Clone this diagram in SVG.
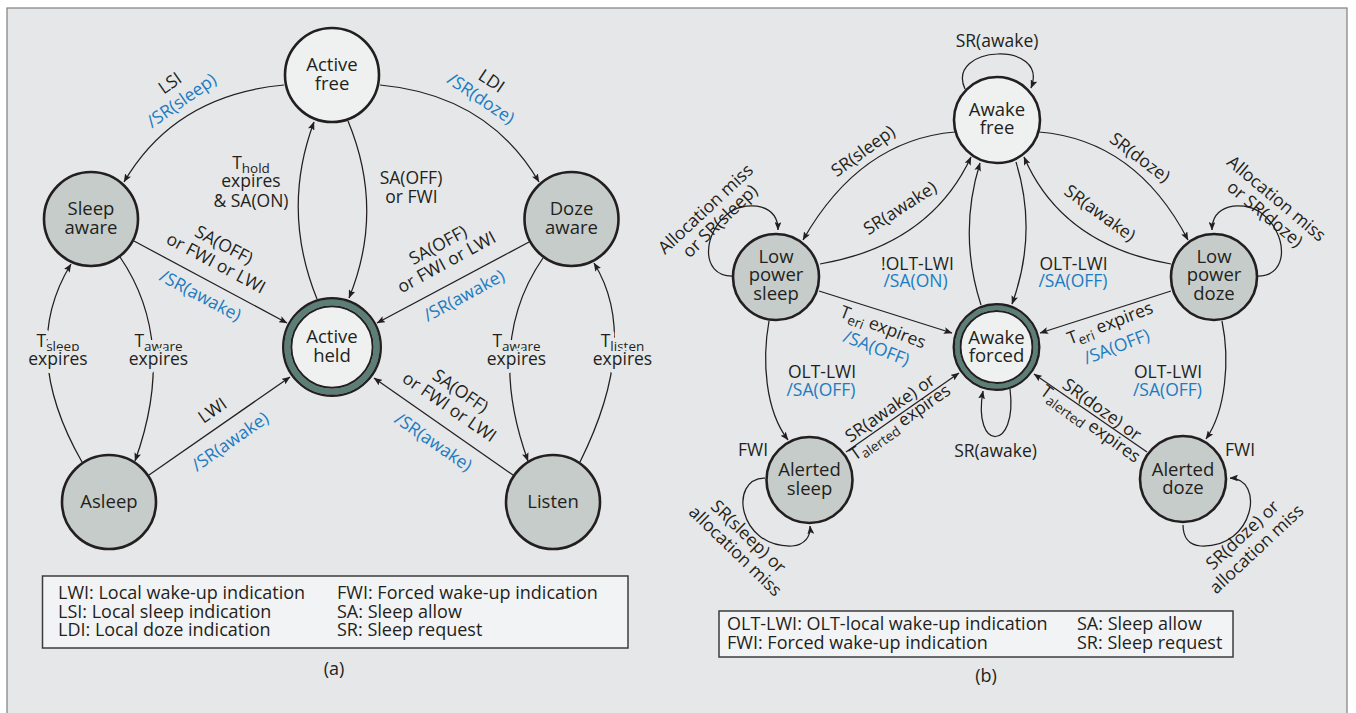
<svg xmlns="http://www.w3.org/2000/svg" width="1356" height="713" viewBox="0 0 1356 713">
<defs>
<style>
text{font-family:"Open Sans","Liberation Sans",sans-serif;fill:#231f20;font-size:17.5px}
.m{text-anchor:middle}
.b{fill:#1b7cc1}
.n{font-size:18.5px;text-anchor:middle}
.lg{font-size:18px}
.s{font-size:13.5px}
.halo{stroke:#e6e7e9;stroke-width:8px;paint-order:stroke;stroke-linejoin:round}
.e{fill:none;stroke:#231f20;stroke-width:1.25;marker-end:url(#ah)}
.lt{fill:#eef1f0;stroke:#231f20;stroke-width:2.6}
.dk{fill:#c5ccc9;stroke:#231f20;stroke-width:2.6}
.box{fill:#f2f3f5;stroke:#3c3c3c;stroke-width:1.5}
</style>
<marker id="ah" viewBox="0 0 10 8" refX="9.5" refY="4" markerWidth="8.5" markerHeight="6.8" markerUnits="userSpaceOnUse" orient="auto"><path d="M0,0 L10,4 L0,8 L2,4 z" fill="#231f20"/></marker>
</defs>
<rect x="0" y="0" width="1356" height="713" fill="#ffffff"/>
<rect x="7" y="8" width="1340" height="720" fill="#e6e7e9" stroke="#7f7f7f" stroke-width="1.2"/>

<g id="connectors">
<path class="e" d="M284 85 Q175 95 124 182"/>
<path class="e" d="M380 85 Q488 95 539 182"/>
<path class="e" d="M317 299 Q281 210 314 122"/>
<path class="e" d="M348 121 Q385 210 349 298"/>
<path class="e" d="M134 241 L287 323"/>
<path class="e" d="M529 242 L377 323"/>
<path class="e" d="M149 475 L290 377"/>
<path class="e" d="M513 475 L374 378"/>
<path class="e" d="M82 462 Q18 350 71 264"/>
<path class="e" d="M120 257 Q178 342 135 461"/>
<path class="e" d="M543 258 Q485 342 528 461"/>
<path class="e" d="M580 462 Q641 339 594 263"/>
<path class="e" d="M955 132 Q860 140 803 240"/>
<path class="e" d="M820 264 Q930 245 971 157"/>
<path class="e" d="M1039 132 Q1136 140 1188 240"/>
<path class="e" d="M1171 264 Q1062 245 1024 157"/>
<path class="e" d="M981 305 Q958 234 980 163"/>
<path class="e" d="M1016 162 Q1038 233 1012 304"/>
<path class="e" d="M819 291 L952 333"/>
<path class="e" d="M1171 291 L1040 333"/>
<path class="e" d="M769 321 C762 360 765 410 788 440"/>
<path class="e" d="M1222 321 C1230 360 1226 410 1206 439"/>
<path class="e" d="M846 452 L959 373"/>
<path class="e" d="M1147 452 L1034 374"/>
<path class="e" d="M1010 389 C1018 452 972 452 983 391"/>
<path class="e" d="M965 89 C945 45 1050 40 1031 88"/>
<path class="e" d="M732 276 C700 276 702 232 730 212 C750 200 778 205 778 230"/>
<path class="e" d="M1258 276 C1290 276 1288 232 1260 212 C1240 200 1212 205 1212 230"/>
<path class="e" d="M765 478 C728 478 738 548 792 546 C805 545 811 536 810 526"/>
<path class="e" d="M1183 525 C1183 536 1188 545 1201 546 C1255 548 1265 478 1230 478"/>
</g>

<g id="n-active-free"><circle class="lt" cx="332" cy="75" r="47"/><text class="n" x="332" y="71">Active</text><text class="n" x="332" y="89.5">free</text></g>
<g id="n-sleep-aware"><circle class="dk" cx="91" cy="219" r="47"/><text class="n" x="91" y="215">Sleep</text><text class="n" x="91" y="233.5">aware</text></g>
<g id="n-doze-aware"><circle class="dk" cx="571.5" cy="219" r="47"/><text class="n" x="571.5" y="215">Doze</text><text class="n" x="571.5" y="233.5">aware</text></g>
<g id="n-active-held"><circle cx="332" cy="347" r="44.7" fill="#eef1f0" stroke="#5b7f77" stroke-width="6"/><circle cx="332" cy="347" r="48.8" fill="none" stroke="#231f20" stroke-width="2.4"/><circle cx="332" cy="347" r="40.7" fill="none" stroke="#231f20" stroke-width="2"/><text class="n" x="332" y="343">Active</text><text class="n" x="332" y="361.5">held</text></g>
<g id="n-asleep"><circle class="dk" cx="109" cy="502" r="47"/><text class="n" x="109" y="508">Asleep</text></g>
<g id="n-listen"><circle class="dk" cx="553" cy="502" r="47"/><text class="n" x="553" y="508">Listen</text></g>

<g id="n-awake-free"><circle class="lt" cx="997" cy="120" r="43"/><text class="n" x="997" y="116">Awake</text><text class="n" x="997" y="134">free</text></g>
<g id="n-low-power-sleep"><circle class="dk" cx="776" cy="277" r="43"/><text class="n" x="776" y="263">Low</text><text class="n" x="776" y="281">power</text><text class="n" x="776" y="299.5">sleep</text></g>
<g id="n-low-power-doze"><circle class="dk" cx="1214" cy="277" r="43"/><text class="n" x="1214" y="263">Low</text><text class="n" x="1214" y="281">power</text><text class="n" x="1214" y="299.5">doze</text></g>
<g id="n-awake-forced"><circle cx="996.5" cy="347" r="39.3" fill="#eef1f0" stroke="#5b7f77" stroke-width="4.8"/><circle cx="996.5" cy="347" r="42.8" fill="none" stroke="#231f20" stroke-width="2.4"/><circle cx="996.5" cy="347" r="36" fill="none" stroke="#231f20" stroke-width="2"/><text class="n" x="996.5" y="343.5">Awake</text><text class="n" x="996.5" y="362">forced</text></g>
<g id="n-alerted-sleep"><circle class="dk" cx="809.5" cy="480" r="43"/><text class="n" x="809.5" y="476">Alerted</text><text class="n" x="809.5" y="494.5">sleep</text></g>
<g id="n-alerted-doze"><circle class="dk" cx="1183" cy="479" r="43"/><text class="n" x="1183" y="475.5">Alerted</text><text class="n" x="1183" y="494">doze</text></g>

<g id="labels-a">
<text class="m" transform="translate(170,83) rotate(-35)" y="6">LSI</text>
<text class="m b" transform="translate(181.5,100.5) rotate(-35)" y="6">/SR(sleep)</text>
<text class="m" transform="translate(491.5,81) rotate(34)" y="6">LDI</text>
<text class="m b" transform="translate(481,98.5) rotate(34)" y="6">/SR(doze)</text>
<text class="m" x="251" y="168.5">T<tspan class="s" dy="4.5">hold</tspan></text>
<text class="m" x="251" y="187">expires</text>
<text class="m" x="251" y="206.5">&amp; SA(ON)</text>
<text class="m" x="411" y="184">SA(OFF)</text>
<text class="m" x="411.5" y="203">or FWI</text>
<text class="m" transform="translate(224,245) rotate(28)" y="6">SA(OFF)</text>
<text class="m" transform="translate(216,263) rotate(28)" y="6">or FWI or LWI</text>
<text class="m b" transform="translate(200.5,295.5) rotate(28)" y="6">/SR(awake)</text>
<text class="m" transform="translate(438,245) rotate(-28.6)" y="6">SA(OFF)</text>
<text class="m" transform="translate(446.5,262) rotate(-28.6)" y="6">or FWI or LWI</text>
<text class="m b" transform="translate(464,295.5) rotate(-28.6)" y="6">/SR(awake)</text>
<text class="m" transform="translate(212.5,410.5) rotate(-35)" y="6">LWI</text>
<text class="m b" transform="translate(230,441.5) rotate(-35)" y="6">/SR(awake)</text>
<text class="m" transform="translate(460.5,391) rotate(34.5)" y="6">SA(OFF)</text>
<text class="m" transform="translate(449.5,407) rotate(34.5)" y="6">or FWI or LWI</text>
<text class="m b" transform="translate(433.5,442) rotate(34.5)" y="6">/SR(awake)</text>
<text class="m halo" x="58" y="346.5">T<tspan class="s" dy="4">sleep</tspan></text>
<text class="m halo" x="58" y="365">expires</text>
<text class="m halo" x="158.5" y="346.5">T<tspan class="s" dy="4">aware</tspan></text>
<text class="m halo" x="158.5" y="365">expires</text>
<text class="m halo" x="516.5" y="346.5">T<tspan class="s" dy="4">aware</tspan></text>
<text class="m halo" x="516.5" y="365">expires</text>
<text class="m halo" x="622.5" y="346.5">T<tspan class="s" dy="4">listen</tspan></text>
<text class="m halo" x="622.5" y="365">expires</text>
</g>

<g id="labels-b">
<text class="m" x="997" y="46.5">SR(awake)</text>
<text class="m" transform="translate(863,151) rotate(-36)" y="6">SR(sleep)</text>
<text class="m" transform="translate(900,208) rotate(-33)" y="6">SR(awake)</text>
<text class="m" transform="translate(1140,157.5) rotate(37)" y="6">SR(doze)</text>
<text class="m" transform="translate(1100,213) rotate(36)" y="6">SR(awake)</text>
<text class="m" x="917.5" y="270">!OLT-LWI</text>
<text class="m b" x="915.5" y="287">/SA(ON)</text>
<text class="m" x="1073.5" y="270">OLT-LWI</text>
<text class="m b" x="1073" y="287">/SA(OFF)</text>
<text class="m" transform="translate(883,327) rotate(21)" y="6">T<tspan class="s" dy="4">eri</tspan><tspan dy="-4"> expires</tspan></text>
<text class="m b" transform="translate(876.5,348) rotate(21)" y="6">/SA(OFF)</text>
<text class="m" transform="translate(1110,323) rotate(-21)" y="6">T<tspan class="s" dy="4">eri</tspan><tspan dy="-4"> expires</tspan></text>
<text class="m b" transform="translate(1116.5,346.5) rotate(-21)" y="6">/SA(OFF)</text>
<text class="m" x="822" y="378">OLT-LWI</text>
<text class="m b" x="821" y="396">/SA(OFF)</text>
<text class="m" x="1168" y="378">OLT-LWI</text>
<text class="m b" x="1167.5" y="396">/SA(OFF)</text>
<text class="m" transform="translate(890,408) rotate(-35)" y="6">SR(awake) or</text>
<text class="m" transform="translate(900.5,423) rotate(-35)" y="5">T<tspan class="s" dy="4">alerted</tspan><tspan dy="-4"> expires</tspan></text>
<text class="m" transform="translate(1102,409.5) rotate(36)" y="6">SR(doze) or</text>
<text class="m" transform="translate(1090,424.5) rotate(36)" y="5">T<tspan class="s" dy="4">alerted</tspan><tspan dy="-4"> expires</tspan></text>
<text class="m" x="995.5" y="457">SR(awake)</text>
<text class="m" x="753" y="456">FWI</text>
<text class="m" x="1240" y="456">FWI</text>
<text class="m" transform="translate(705.5,209) rotate(-43)" y="6">Allocation miss</text>
<text class="m" transform="translate(720,221) rotate(-44)" y="6">or SR(sleep)</text>
<text class="m" transform="translate(1276.5,198.5) rotate(40)" y="6">Allocation miss</text>
<text class="m" transform="translate(1265,214) rotate(40)" y="6">or SR(doze)</text>
<text class="m" transform="translate(748.5,536.5) rotate(44)" y="6">SR(sleep) or</text>
<text class="m" transform="translate(735.5,551) rotate(44)" y="6">allocation miss</text>
<text class="m" transform="translate(1242.5,535) rotate(-43)" y="6">SR(doze) or</text>
<text class="m" transform="translate(1256.5,549) rotate(-43)" y="6">allocation miss</text>
</g>

<g id="legend-a">
<rect class="box" x="42.5" y="576" width="585.5" height="72"/>
<text class="lg" x="58" y="599">LWI: Local wake-up indication</text>
<text class="lg" x="58" y="617.5">LSI: Local sleep indication</text>
<text class="lg" x="58" y="636">LDI: Local doze indication</text>
<text class="lg" x="337" y="599">FWI: Forced wake-up indication</text>
<text class="lg" x="337" y="617.5">SA: Sleep allow</text>
<text class="lg" x="337" y="636">SR: Sleep request</text>
</g>
<text class="m lg" x="334" y="675">(a)</text>
<g id="legend-b">
<rect class="box" x="719" y="611" width="514" height="46"/>
<text class="lg" x="727" y="630">OLT-LWI: OLT-local wake-up indication</text>
<text class="lg" x="727" y="648.5">FWI: Forced wake-up indication</text>
<text class="lg" x="1077" y="630">SA: Sleep allow</text>
<text class="lg" x="1077" y="648.5">SR: Sleep request</text>
</g>
<text class="m lg" x="986" y="682">(b)</text>
</svg>
